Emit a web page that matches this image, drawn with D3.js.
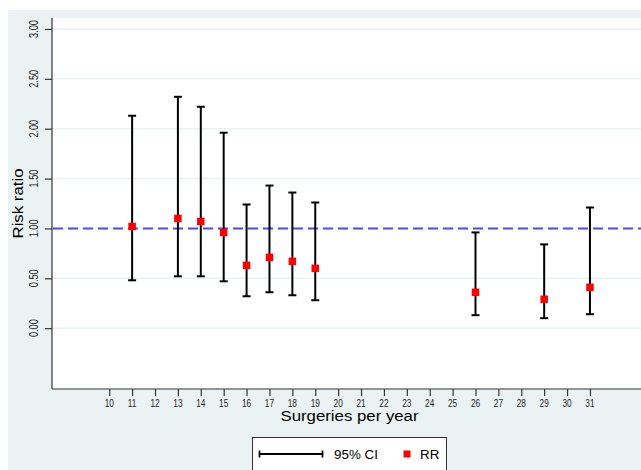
<!DOCTYPE html>
<html>
<head>
<meta charset="utf-8">
<script src="https://cdn.jsdelivr.net/npm/d3@7"></script>
<style>
  html, body { margin: 0; padding: 0; background: #ffffff; }
  svg { display: block; }
  text { font-family: "Liberation Sans", Arial, sans-serif; fill: #000; }
</style>
</head>
<body>
<svg id="chart" width="641" height="470"></svg>
<script>
// ---- data ----
const surgeries = [11, 13, 14, 15, 16, 17, 18, 19, 26, 29, 31];
const rr        = [1.02, 1.10, 1.07, 0.96, 0.63, 0.71, 0.67, 0.60, 0.36, 0.29, 0.41];
const ciLower   = [0.48, 0.52, 0.52, 0.47, 0.32, 0.36, 0.33, 0.28, 0.13, 0.10, 0.14];
const ciUpper   = [2.13, 2.32, 2.22, 1.96, 1.24, 1.43, 1.36, 1.26, 0.96, 0.84, 1.21];
const xTickValues = d3.range(10, 32);           // 10 .. 31
const yTickValues = [0, 0.5, 1, 1.5, 2, 2.5, 3];
const yTickLabels = ["0.00", "0.50", "1.00", "1.50", "2.00", "2.50", "3.00"];
const referenceValue = 1;
const xTitle = "Surgeries per year";
const yTitle = "Risk ratio";
const legendLabels = ["95% CI", "RR"];

// ---- layout ----
const svg = d3.select("#chart");
const W = 641, H = 470;
const plot = { left: 52, right: 641, top: 18, bottom: 389 };
const bg = "#eaf2f3";

svg.append("rect").attr("x", 8).attr("y", 10).attr("width", W - 8).attr("height", H - 10).attr("fill", bg);
svg.append("rect").attr("x", plot.left).attr("y", plot.top)
   .attr("width", plot.right - plot.left).attr("height", plot.bottom - plot.top).attr("fill", "#ffffff");

const x = d3.scaleLinear().domain([7.5, 33.23]).range([plot.left, plot.right]);
const y = d3.scaleLinear().domain([-0.61, 3.11]).range([plot.bottom, plot.top]);

// gridlines
svg.append("g").selectAll("line").data(yTickValues).join("line")
  .attr("x1", plot.left).attr("x2", plot.right)
  .attr("y1", d => y(d)).attr("y2", d => y(d))
  .attr("stroke", bg).attr("stroke-width", 1.5);

// reference line
svg.append("line")
  .attr("x1", plot.left + 1).attr("x2", plot.right)
  .attr("y1", y(referenceValue)).attr("y2", y(referenceValue))
  .attr("stroke", "#4b4bf2").attr("stroke-width", 2)
  .attr("stroke-dasharray", "10,5");

// y axis
const yAxis = d3.axisLeft(y).tickValues(yTickValues).tickSize(7).tickFormat("");
const gy = svg.append("g").attr("transform", `translate(${plot.left},0)`).call(yAxis);
gy.select(".domain").attr("d", `M-0,${plot.top}V${plot.bottom}`).attr("stroke", "#333").attr("stroke-width", 1.2);
gy.selectAll(".tick line").attr("stroke", "#333").attr("stroke-width", 1.2);

svg.append("g").selectAll("text").data(yTickValues).join("text")
  .attr("transform", d => `translate(38,${y(d)}) rotate(-90) scale(0.68,1)`)
  .attr("text-anchor", "middle")
  .style("font-size", "13.5px")
  .style("fill", "#222")
  .text((d, i) => yTickLabels[i]);

// x axis
const xAxis = d3.axisBottom(x).tickValues(xTickValues).tickSize(7).tickFormat("");
const gx = svg.append("g").attr("transform", `translate(0,${plot.bottom})`).call(xAxis);
gx.select(".domain").attr("d", `M${plot.left},0H${plot.right}`).attr("stroke", "#333").attr("stroke-width", 1.2);
gx.selectAll(".tick line").attr("stroke", "#333").attr("stroke-width", 1.2);

svg.append("g").selectAll("text").data(xTickValues).join("text")
  .attr("transform", d => `translate(${x(d)},407) scale(0.83,1)`)
  .attr("text-anchor", "middle")
  .style("font-size", "10px")
  .style("fill", "#222")
  .text(d => d);

// titles
svg.append("text")
  .attr("transform", `translate(${(plot.left + plot.right) / 2 + 3},421) scale(1.12,1)`)
  .attr("text-anchor", "middle")
  .style("font-size", "15px")
  .text(xTitle);

svg.append("text")
  .attr("transform", `translate(23,${(plot.top + plot.bottom) / 2}) rotate(-90) scale(1.2,1)`)
  .attr("text-anchor", "middle")
  .style("font-size", "14px")
  .text(yTitle);

// error bars
const data = surgeries.map((s, i) => ({ s, rr: rr[i], lo: ciLower[i], hi: ciUpper[i] }));
const capW = 8;
const bars = svg.append("g").attr("stroke", "#000").attr("stroke-width", 2);
bars.selectAll("line.v").data(data).join("line").attr("class", "v")
  .attr("x1", d => x(d.s)).attr("x2", d => x(d.s))
  .attr("y1", d => y(d.lo)).attr("y2", d => y(d.hi));
bars.selectAll("line.t").data(data).join("line").attr("class", "t")
  .attr("x1", d => x(d.s) - capW / 2).attr("x2", d => x(d.s) + capW / 2)
  .attr("y1", d => y(d.hi)).attr("y2", d => y(d.hi));
bars.selectAll("line.b").data(data).join("line").attr("class", "b")
  .attr("x1", d => x(d.s) - capW / 2).attr("x2", d => x(d.s) + capW / 2)
  .attr("y1", d => y(d.lo)).attr("y2", d => y(d.lo));

// points
const ms = 7.5;
svg.append("g").selectAll("rect").data(data).join("rect")
  .attr("x", d => x(d.s) - ms / 2).attr("y", d => y(d.rr) - ms / 2)
  .attr("width", ms).attr("height", ms).attr("fill", "#ff0000");

// legend
const lg = svg.append("g");
lg.append("rect").attr("x", 252.5).attr("y", 437.5).attr("width", 194).attr("height", 33)
  .attr("fill", "#fff").attr("stroke", "#333").attr("stroke-width", 1);
const ly = 454;
lg.append("line").attr("x1", 259).attr("x2", 323).attr("y1", ly).attr("y2", ly).attr("stroke", "#000").attr("stroke-width", 2);
lg.append("line").attr("x1", 259.5).attr("x2", 259.5).attr("y1", ly - 3.5).attr("y2", ly + 3.5).attr("stroke", "#000").attr("stroke-width", 1.8);
lg.append("line").attr("x1", 322.5).attr("x2", 322.5).attr("y1", ly - 3.5).attr("y2", ly + 3.5).attr("stroke", "#000").attr("stroke-width", 1.8);
lg.append("text").attr("x", 334).attr("y", 458.5).style("font-size", "13.4px").text(legendLabels[0]);
lg.append("rect").attr("x", 403.5).attr("y", ly - 3.5).attr("width", 7).attr("height", 7).attr("fill", "#ff0000");
lg.append("text").attr("x", 420).attr("y", 458.5).style("font-size", "13.4px").text(legendLabels[1]);
</script>
</body>
</html>
